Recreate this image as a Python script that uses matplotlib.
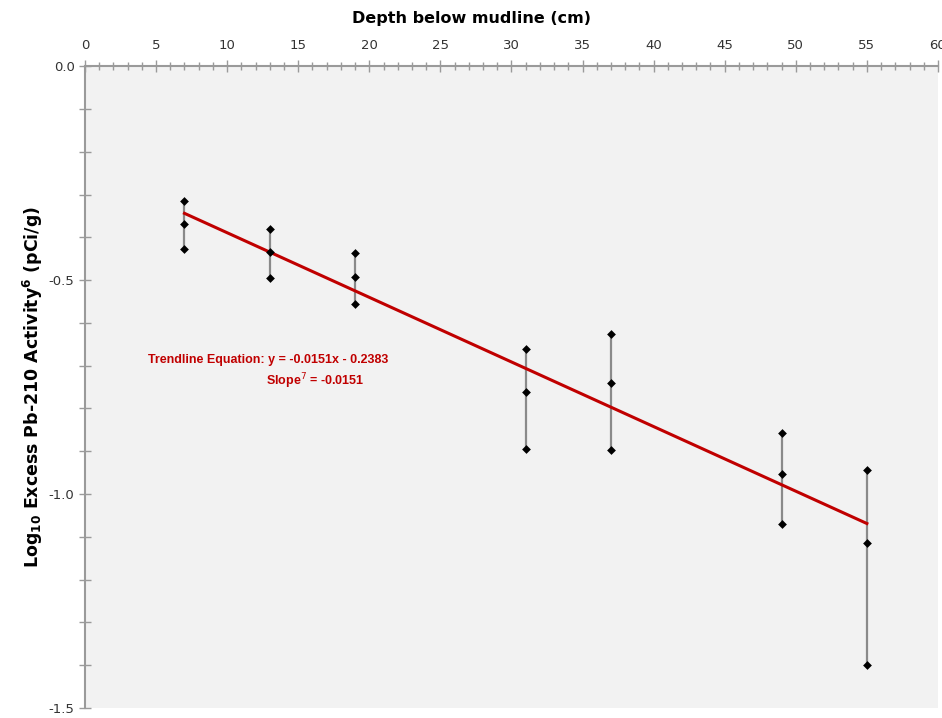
import numpy as np
import matplotlib
matplotlib.use('Agg')
import matplotlib.pyplot as plt
from matplotlib.ticker import MultipleLocator, FormatStrFormatter

# depth (cm) and three replicate log10 activities at each depth
depths = [7, 13, 19, 31, 37, 49, 55]
rep_high = [-0.315, -0.381, -0.437, -0.661, -0.626, -0.858, -0.944]
rep_mid = [-0.369, -0.435, -0.493, -0.762, -0.741, -0.953, -1.115]
rep_low = [-0.428, -0.495, -0.556, -0.895, -0.897, -1.070, -1.400]

slope = -0.0151
intercept = -0.2383

grey = '#9a9a9a'
red = '#c00000'

fig = plt.figure(figsize=(9.42, 7.18), dpi=100)
ax = fig.add_axes([0.0902, 0.0139, 0.9055, 0.894])
ax.set_facecolor('#f2f2f2')

# vertical range lines
for x, hi, lo in zip(depths, rep_high, rep_low):
    ax.plot([x, x], [lo, hi], color='#8a8a8a', linewidth=1.6, zorder=2)

# trendline
xs = np.array([depths[0], depths[-1]])
ax.plot(xs, slope * xs + intercept, color=red, linewidth=2.2, zorder=3)

# replicate points
for series in (rep_high, rep_mid, rep_low):
    ax.scatter(depths, series, marker='D', s=20, color='black', zorder=4, linewidths=0)

ax.set_xlim(0, 60)
ax.set_ylim(-1.5, 0)

ax.xaxis.tick_top()
ax.xaxis.set_label_position('top')
ax.xaxis.set_major_locator(MultipleLocator(5))
ax.xaxis.set_minor_locator(MultipleLocator(1))
ax.yaxis.set_major_locator(MultipleLocator(0.5))
ax.yaxis.set_minor_locator(MultipleLocator(0.1))
ax.yaxis.set_major_formatter(FormatStrFormatter('%.1f'))

ax.tick_params(axis='x', which='major', direction='inout', length=9, width=1, color=grey,
               labelsize=9.5, pad=6, labelcolor='#333333')
ax.tick_params(axis='x', which='minor', direction='inout', length=6, width=1, color=grey)
ax.tick_params(axis='y', which='major', direction='inout', length=8, width=1, color=grey,
               labelsize=9.5, labelcolor='#333333')
ax.tick_params(axis='y', which='minor', direction='inout', length=8, width=1, color=grey)

for s in ['right', 'bottom']:
    ax.spines[s].set_visible(False)
for s in ['left', 'top']:
    ax.spines[s].set_color(grey)
    ax.spines[s].set_linewidth(1.5)

# title sits centred on the figure, not on the plot area
fig.text(0.5, 1 - 18 / 718, 'Depth below mudline (cm)', fontsize=11.5, fontweight='bold',
         ha='center', va='center')
ax.set_ylabel('Log$_{\\mathbf{10}}$ Excess Pb-210 Activity$^{\\mathbf{6}}$ (pCi/g)',
              fontsize=12.5, fontweight='bold', labelpad=3)

ax.text(12.87, -0.687, 'Trendline Equation: y = -0.0151x - 0.2383', color=red,
        fontsize=9, fontweight='bold', ha='center', va='center', family='Liberation Sans')
ax.text(16.17, -0.736, 'Slope$^{7}$ = -0.0151', color=red,
        fontsize=9, fontweight='bold', ha='center', va='center', family='Liberation Sans')

fig.savefig('out.png', dpi=100)
